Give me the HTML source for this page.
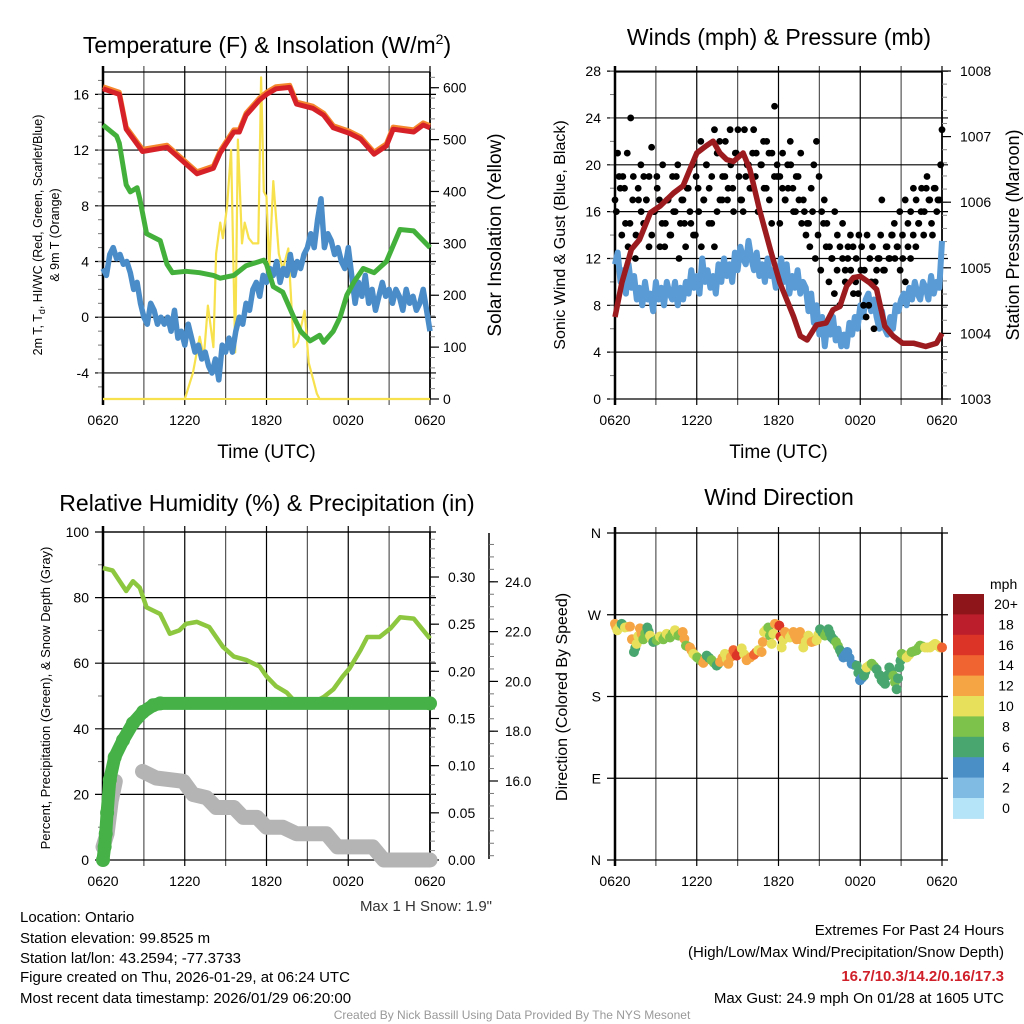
<!DOCTYPE html>
<html><head><meta charset="utf-8"><title>Mesonet station summary charts</title>
<style>
html,body{margin:0;padding:0;background:#fff;}
svg{display:block;font-family:"Liberation Sans",Arial,sans-serif;}
</style></head>
<body>
<svg id="fig" width="1024" height="1024" viewBox="0 0 1024 1024" xmlns="http://www.w3.org/2000/svg">
<rect x="0" y="0" width="1024" height="1024" fill="#fff"/>
<g id="p1"></g>
<g id="p2"></g>
<g id="p3"></g>
<g id="p4"></g>
<g font-size="15" fill="#000">
<text x="20" y="922">Location: Ontario</text>
<text x="20" y="943">Station elevation: 99.8525 m</text>
<text x="20" y="963">Station lat/lon: 43.2594; -77.3733</text>
<text x="20" y="982">Figure created on Thu, 2026-01-29, at 06:24 UTC</text>
<text x="20" y="1003">Most recent data timestamp: 2026/01/29 06:20:00</text>
<text x="492" y="911" text-anchor="end" fill="#333">Max 1 H Snow: 1.9"</text>
<text x="1004" y="935" text-anchor="end">Extremes For Past 24 Hours</text>
<text x="1004" y="957" text-anchor="end">(High/Low/Max Wind/Precipitation/Snow Depth)</text>
<text x="1004" y="981" text-anchor="end" fill="#d0202a" font-weight="bold">16.7/10.3/14.2/0.16/17.3</text>
<text x="1004" y="1003" text-anchor="end">Max Gust: 24.9 mph On 01/28 at 1605 UTC</text>
<text x="512" y="1019" text-anchor="middle" font-size="12" fill="#999">Created By Nick Bassill Using Data Provided By The NYS Mesonet</text>
</g>
</svg>
<script>
// ---------------- DATA ----------------
const xTickLabels = ["0620","1220","1820","0020","0620"];
// Panel 1 (times in hours since 0620)
const tempT = [0,1.2,1.7,2.9,4.7,6.9,8.1,8.6,9.6,10,10.5,11.5,12,12.7,13.7,14.2,15.4,16.2,16.9,18.1,18.9,19.9,20.8,21.3,22.8,23.5,24];
const tempV = [16.4,16.0,13.5,11.9,12.2,10.3,10.7,11.8,13.3,13.3,14.5,15.6,16.0,16.4,16.5,15.3,15.0,14.5,13.6,13.2,12.8,11.7,12.3,13.5,13.3,13.8,13.6];
const dewT = [0,1,1.2,1.7,2,2.5,2.7,3.2,4.2,4.7,5.1,6.1,7.1,8.1,8.6,9.6,10.5,11.8,12,12.5,13.2,14,14.5,15.2,15.9,16.2,16.9,17.4,17.9,18.4,19.1,19.9,20.8,21.8,22.8,24];
const dewV = [13.8,13.0,12.5,9.5,9.0,9.3,8.5,6.0,5.5,3.8,3.2,3.3,3.2,3.0,2.8,3.0,3.7,4.1,3.8,2.2,1.8,0.0,-1.0,-1.7,-1.3,-1.8,-1.0,0.0,1.6,2.5,3.5,3.2,4.0,6.3,6.2,5.0];
const chillV = [3.5,3,4.5,5,4.2,4.5,3.8,4,3.2,2,2.5,1,0,-0.5,1,0.5,-0.5,0,-0.5,0,-1,0.5,-1.5,-1,-2,-0.5,-1.5,-2.5,-2,-3,-2.5,-3.5,-4,-3,-4.5,-2,-2.5,-1.5,-2.5,-1,0,-0.5,1,0.5,2,2.5,1.5,3,2.5,3.5,3,4,2.5,3.5,3,4.5,3,4,3.5,4.5,5,6,5,7,8.5,5,6,5.5,4.5,5,4,3.5,5,3,1,2.5,1.5,3,1,2,0.5,1.5,2.5,1.5,2,1,2,1.5,0.5,2,1,1.5,0.5,1,2,0.5,-1];
const solarT = [0,6,6.6,7.1,7.4,7.7,8.1,8.3,8.6,8.8,9.1,9.4,9.7,9.9,10.2,10.4,10.7,11,11.4,11.6,11.8,12,12.2,12.5,12.9,13.2,13.6,14,14.3,14.8,15.1,15.3,15.7,15.9,24];
const solarV = [0,0,50,120,80,180,100,280,340,310,370,480,90,500,300,340,310,300,300,620,400,390,250,420,280,250,290,100,110,170,70,50,10,0,0];
// Panel 2
const presT = [0,0.5,1.2,1.8,2.6,3.3,4.3,5,5.5,6,6.7,7.2,7.7,8.2,8.7,9.4,9.9,10.6,11.4,12.1,13.1,13.6,14.1,14.8,15.5,16,16.5,17,17.5,18,18.7,19.2,19.8,20.4,21.1,21.9,22.8,23.6,24];
const presV = [1004.25,1004.77,1005.28,1005.43,1005.84,1005.94,1006.14,1006.25,1006.5,1006.75,1006.86,1006.93,1006.75,1006.65,1006.62,1006.75,1006.5,1005.89,1005.28,1004.77,1004.26,1003.96,1003.9,1004.13,1004.16,1004.36,1004.41,1004.72,1004.85,1004.87,1004.77,1004.67,1004.11,1003.96,1003.85,1003.85,1003.8,1003.85,1004.0];
const sonicV = [11.5,12.5,10,11,9,11.5,9.5,10.5,8.5,9.5,8,10,8.5,9,7.5,10,8.5,9.5,8,10,9,8.5,10,8,9.5,8.5,10,9,11,9.5,10.5,9,12,10,11,9.5,10.5,9,11.5,10,12,10.5,11.5,10,12.5,11,13,12,11.5,13.5,12,11,12.5,10.5,11.5,10,12,10.5,11,9.5,10.5,12,10,11.5,9,10.5,9.5,11,9,10,9.5,7.5,9,6.5,8,5.5,7,4.5,6.5,5.5,7,5,6,4.5,5.5,4.5,6.5,5.5,7,6,8,7,8.5,9,7.5,8.5,7,6,7.5,6,5.5,7,6,8,7.5,8.5,9,8,9.5,8.5,10,9,8.5,10,9.5,8.5,10.5,9,10,9.5,13.5];
const gustV = [17,21,18,19,15,13,24,19,14,17,16,19,17,13,21.5,16,19,17,15,13,17,14,19,16,20,15,17,13,18,15,14,19,16,13,17,20,18,15,13,16,22,17,19,17,23,18,21,23,17,16,19,20,18,23,21,16,20,18,22,17,21,25,19,15,18,17,20,22,18,16,19,21,17,14,15,18,20,22,19,16,17,15,13,12,16,14,13,15,11,12,14,13,10,9,11,8,7,8,10,6,11,12,17,11,13,12,14,12,13,11,12,10,13,12,14,13,15,16,14,18,17,15,18,16,17,23];
const gustV2 = [16,19,14,18,21,15,17,12,18,20,15,17,19,14,16,18,13,20,15,17,14,16,19,12,17,15,18,16,20,14,18,22,17,20,15,19,23,21,17,19,22,18,20,16,21,19,17,23,20,18,21,19,16,20,22,18,21,15,19,20,19,21,17,18,20,16,19,17,15,16,15,13,16,12,14,11,15,13,10,12,9,11,8,12,10,13,11,9,12,14,13,11,14,12,13,10,12,14,11,13,12,14,15,13,16,14,17,15,16,18,17,15,18,16,19,17,14,18,17,20];
// Panel 3
const rhT = [0,0.7,1.7,2.2,2.7,3.2,4.2,4.9,5.6,6.1,6.9,7.8,8.8,9.6,10.5,11.5,12,12.7,13.5,14,15,16.2,16.9,17.6,18.1,18.9,19.4,20.3,21.1,21.8,22.8,24];
const rhV = [89,88.3,82,85,83,77,75,69,70,72,72.6,71,65,62,61,59,56,53,51,48.7,47,49.7,52,56,58.4,64,68,68,70.6,74,73.6,67.5];
const precipT = [0,0.12,0.2,0.3,0.5,0.86,1.47,2.2,2.94,3.68,4.2,24];
const precipV = [0,0.014,0.028,0.05,0.085,0.109,0.127,0.145,0.157,0.164,0.166,0.166];
const snowT1 = [0,0.3,0.6,0.9];
const snowV1 = [4,8,18,24];
const snowT2 = [2.9,3.9,5.9,6.6,7.6,8.3,9.6,10.3,11.3,12,13.2,14.2,16.4,17.2,19.8,20.6,24];
const snowV2 = [27,25,24,20,19,16,16,13,13,10,10,8,8,4,4,0,0];
// Panel 4
const dirT = [0,.17,.49,.73,1.1,1.39,1.59,1.83,2.08,2.37,2.57,2.81,3.06,3.3,3.55,3.79,4.04,4.4,4.65,4.97,5.21,5.5,5.75,6.04,6.48,6.73,7.09,7.46,7.71,8.07,8.32,8.69,8.93,9.3,9.66,10.2,10.52,10.76,10.94,11.25,11.5,11.74,12.06,12.23,12.48,12.84,13.09,13.33,13.58,13.82,14.19,14.43,14.8,15.05,15.41,15.66,15.9,16.22,16.51,16.76,17.05,17.37,17.74,17.98,18.28,18.47,18.84,19.2,19.57,19.82,20.13,20.43,20.67,20.87,21.04,21.41,21.77,22.14,22.39,22.75,23.12,23.49,23.85,24];
const dirV = [260,253,260,256,257,229,238,255,243,256,247,240,242,246,243,249,245,253,247,251,236,234,227,223,217,225,220,214,218,227,216,231,225,233,220,226,231,229,251,256,238,260,258,234,251,245,251,243,251,234,247,240,242,254,247,254,245,240,231,223,229,216,214,198,203,212,216,210,198,194,212,203,188,212,227,223,229,231,236,234,234,238,234,234];
const dirS = [12,10,7,10,12,7,10,13,9,7,10,7,8,10,9,10,8,10,9,13,8,13,10,9,12,7,9,7,12,10,12,15,16,10,12,15,10,12,10,8,10,13,16,10,12,10,12,12,13,10,10,12,10,7,8,6,7,8,6,5,4,4,6,5,7,10,8,6,6,6,7,8,6,6,8,10,8,9,8,10,10,10,11,15];
const speedLabels = ["0","2","4","6","8","10","12","14","16","18","20+"];
const speedColors = ["#b5e4f8","#80bbe4","#4a8fc6","#49a66f","#7cc24b","#e6e05b","#f6a544","#ef6431","#dd3428","#bd1e2c","#8e161b"];

// ---------------- HELPERS ----------------
const NS="http://www.w3.org/2000/svg";
function mk(parent, tag, attrs, txt){const e=document.createElementNS(NS,tag);for(const k in attrs)e.setAttribute(k,attrs[k]);if(txt!==undefined)e.textContent=txt;parent.appendChild(e);return e;}
function idxT(arr){return arr.map((_,i)=>i*24/(arr.length-1));}
function pathD(ts,vs,fx,fy){return ts.map((t,i)=>(i?"L":"M")+fx(t).toFixed(1)+","+fy(vs[i]).toFixed(1)).join(" ");}

function frame(g, x0, x1, y0, y1, yTicks, fy, yLabels, minorL, drawTimeTitle){
  const fx=t=>x0+t/24*(x1-x0);
  for(let h=0;h<=24;h+=3){
    const l=mk(g,"line",{x1:fx(h),x2:fx(h),y1:y0-6,y2:y1+6,stroke:(h%6===0?"#000":"#555"),"stroke-width":1.2});
    
    
  }
  yTicks.forEach((v,i)=>{
    const y=fy(v);
    const l=mk(g,"line",{x1:x0-8,x2:x1+6,y1:y,y2:y,stroke:"#000","stroke-width":1.2});
    
    
    const t=mk(g,"text",{x:x0-14,y:y+5,"text-anchor":"end","font-size":14},yLabels[i]);
    
    
  });
  minorL.forEach(v=>{mk(g,"line",{x1:x0-5,x2:x0,y1:fy(v),y2:fy(v),stroke:"#777","stroke-width":1});});
  mk(g,"line",{x1:x0,x2:x0,y1:y0-6,y2:y1+6,stroke:"#000","stroke-width":2.5});
  mk(g,"line",{x1:x0,x2:x1,y1:y0,y2:y0,stroke:"#000","stroke-width":1.2});
  mk(g,"line",{x1:x1,x2:x1,y1:y0,y2:y1,stroke:"#000","stroke-width":1.5});
  xTickLabels.forEach((lab,i)=>{
    const t=mk(g,"text",{x:fx(i*6),y:y1+26,"text-anchor":"middle","font-size":14},lab);
    
    
  });
  if(drawTimeTitle){
    const t=mk(g,"text",{x:(x0+x1)/2,y:y1+59,"text-anchor":"middle","font-size":19},"Time (UTC)");
    
    
  }
  return fx;
}
function rightAxis(g,x,y0,y1,ticks,fy,labels,minor,lx){
  mk(g,"line",{x1:x,x2:x,y1:y0,y2:y1,stroke:"#000","stroke-width":1.5});
  minor.forEach(v=>mk(g,"line",{x1:x,x2:x+5,y1:fy(v),y2:fy(v),stroke:"#888","stroke-width":1}));
  ticks.forEach((v,i)=>{
    mk(g,"line",{x1:x,x2:x+9,y1:fy(v),y2:fy(v),stroke:"#000","stroke-width":1.2});
    const t=mk(g,"text",{x:lx,y:fy(v)+5,"font-size":14},labels[i]);
    
    
  });
}
function rng(a,b,s){const r=[];for(let v=a;v<=b+1e-9;v+=s)r.push(+v.toFixed(4));return r;}

// ---------------- PANEL 1 ----------------
(function(){
  const g=document.getElementById("p1");
  const x0=103,x1=430,y0=72,y1=399;
  const fy=v=>399-(v+5.87)*13.93;
  const fs=v=>399-v*0.5188;
  const fx=frame(g,x0,x1,y0,y1,[-4,0,4,8,12,16],fy,["-4","0","4","8","12","16"],rng(-5,17,1),true);
  rightAxis(g,x1,y0,y1,[0,100,200,300,400,500,600],fs,["0","100","200","300","400","500","600"],rng(0,620,20),443);
  let p=mk(g,"path",{d:pathD(solarT,solarV,fx,fs),fill:"none",stroke:"#f7e14d","stroke-width":2.2,"stroke-linejoin":"round"});
  
  
  p=mk(g,"path",{d:pathD(idxT(chillV),chillV,fx,fy),fill:"none",stroke:"#4a8cc8","stroke-width":5.5,"stroke-linejoin":"round"});
  
  
  p=mk(g,"path",{d:pathD(dewT,dewV,fx,fy),fill:"none",stroke:"#44b03c","stroke-width":5,"stroke-linejoin":"round"});
  
  
  p=mk(g,"path",{d:pathD(tempT,tempV.map(v=>v+0.15),fx,fy),fill:"none",stroke:"#f5872e","stroke-width":5,"stroke-linejoin":"round"});
  
  
  p=mk(g,"path",{d:pathD(tempT,tempV,fx,fy),fill:"none",stroke:"#d62128","stroke-width":5,"stroke-linejoin":"round"});
  
  
  mk(g,"line",{x1:x0,x2:x1,y1:y1,y2:y1,stroke:"#f7e14d","stroke-width":2});
  let t=mk(g,"text",{x:267,y:53,"text-anchor":"middle","font-size":23});
  t.innerHTML='Temperature (F) &amp; Insolation (W/m<tspan dy="-9" font-size="14">2</tspan><tspan dy="9">)</tspan>';
  
  
  t=mk(g,"text",{transform:"translate(42,235) rotate(-90)","text-anchor":"middle","font-size":12.5});
  t.innerHTML='2m T, T<tspan dy="3" font-size="9">d</tspan><tspan dy="-3">, HI/WC (Red, Green, Scarlet/Blue)</tspan>';
  
  
  t=mk(g,"text",{transform:"translate(59,235) rotate(-90)","text-anchor":"middle","font-size":12.5},"& 9m T (Orange)");
  
  
  t=mk(g,"text",{transform:"translate(501,235) rotate(-90)","text-anchor":"middle","font-size":19},"Solar Insolation (Yellow)");
  
  
})();

// ---------------- PANEL 2 ----------------
(function(){
  const g=document.getElementById("p2");
  const x0=615,x1=942,y0=72,y1=399;
  const fy=v=>399-v*11.71;
  const fp=v=>399-(v-1003)*65.6;
  const fx=frame(g,x0,x1,y0,y1,[0,4,8,12,16,20,24,28],fy,["0","4","8","12","16","20","24","28"],rng(0,28,2),true);
  rightAxis(g,x1,y0,y1,[1003,1004,1005,1006,1007,1008],fp,["1003","1004","1005","1006","1007","1008"],rng(1003,1008,0.2),960);
  let p=mk(g,"path",{d:pathD(idxT(sonicV),sonicV,fx,fy),fill:"none",stroke:"#5a9bd5","stroke-width":6,"stroke-linejoin":"round"});
  
  
  const gt=idxT(gustV);
  gustV.forEach((v,i)=>{
    const c=mk(g,"circle",{cx:fx(gt[i]),cy:fy(v),r:3.4,fill:"#000"});
    
    
  });
  gustV2.forEach((v,i)=>{
    const c=mk(g,"circle",{cx:fx((i+0.5)*24/gustV2.length),cy:fy(v),r:3.4,fill:"#000"});
    
    
  });
  p=mk(g,"path",{d:pathD(presT,presV,fx,fp),fill:"none",stroke:"#9b1b1e","stroke-width":5.5,"stroke-linejoin":"round"});
  
  
  let t=mk(g,"text",{x:779,y:45,"text-anchor":"middle","font-size":23},"Winds (mph) & Pressure (mb)");
  
  
  t=mk(g,"text",{transform:"translate(565,235) rotate(-90)","text-anchor":"middle","font-size":16},"Sonic Wind & Gust (Blue, Black)");
  
  
  t=mk(g,"text",{transform:"translate(1019,235) rotate(-90)","text-anchor":"middle","font-size":18},"Station Pressure (Maroon)");
  
  
})();

// ---------------- PANEL 3 ----------------
(function(){
  const g=document.getElementById("p3");
  const x0=103,x1=430,y0=532,y1=860;
  const fy=v=>860-v*3.28;
  const fp=v=>860-v*943.3;
  const fsn=v=>781-(v-16)*24.9;
  const fx=frame(g,x0,x1,y0,y1,[0,20,40,60,80,100],fy,["0","20","40","60","80","100"],[10,30,50,70,90],false);
  rightAxis(g,x1,y0,y1,[0,0.05,0.1,0.15,0.2,0.25,0.3],fp,["0.00","0.05","0.10","0.15","0.20","0.25","0.30"],rng(0,0.34,0.01),448);
  mk(g,"line",{x1:489,x2:489,y1:533,y2:859,stroke:"#000","stroke-width":1.5});
  rng(13,25.8,0.5).forEach(v=>{if(fsn(v)>=533&&fsn(v)<=859)mk(g,"line",{x1:489,x2:494,y1:fsn(v),y2:fsn(v),stroke:"#777","stroke-width":1});});
  [16,18,20,22,24].forEach(v=>{
    mk(g,"line",{x1:489,x2:498,y1:fsn(v),y2:fsn(v),stroke:"#000","stroke-width":1.2});
    const t=mk(g,"text",{x:505,y:fsn(v)+5,"font-size":13.5},v.toFixed(1));
    
    
  });
  let p=mk(g,"path",{d:pathD(rhT,rhV,fx,fy),fill:"none",stroke:"#8dc63f","stroke-width":4.5,"stroke-linejoin":"round"});
  
  
  [[snowT1,snowV1],[snowT2,snowV2]].forEach(([ts,vs])=>{
    const q=mk(g,"path",{d:pathD(ts,vs,fx,fy),fill:"none",stroke:"#b4b4b4","stroke-width":15,"stroke-linejoin":"round","stroke-linecap":"round"});
    
    
  });
  p=mk(g,"path",{d:pathD(precipT,precipV,fx,fp),fill:"none",stroke:"#46b147","stroke-width":13,"stroke-linejoin":"round","stroke-linecap":"round"});
  
  
  precipT.forEach((tt,i)=>{
    const c=mk(g,"circle",{cx:fx(tt),cy:fp(precipV[i]),r:7,fill:"#46b147"});
    
    
  });
  let t=mk(g,"text",{x:267,y:511,"text-anchor":"middle","font-size":23},"Relative Humidity (%) & Precipitation (in)");
  
  
  t=mk(g,"text",{transform:"translate(50,698) rotate(-90)","text-anchor":"middle","font-size":13},"Percent, Precipitation (Green), & Snow Depth (Gray)");
  
  
})();

// ---------------- PANEL 4 ----------------
(function(){
  const g=document.getElementById("p4");
  const x0=615,x1=942,y0=533,y1=860;
  const fy=v=>860-v*0.9083;
  const fx=frame(g,x0,x1,y0,y1,[0,90,180,270,360],fy,["N","E","S","W","N"],[],false);
  dirT.forEach((tt,i)=>{
    const ci=Math.min(10,Math.floor(dirS[i]/2));
    const c=mk(g,"circle",{cx:fx(tt),cy:fy(dirV[i]),r:5,fill:speedColors[ci]});
    
    
    if(i<dirT.length-1){
      const c2=mk(g,"circle",{cx:(fx(tt)+fx(dirT[i+1]))/2,cy:(fy(dirV[i])+fy(dirV[i+1]))/2,r:5,fill:speedColors[ci]});
      
      
    }
  });
  const cbTop=594,bh=20.4;
  const ml=mk(g,"text",{x:990,y:589,"font-size":14},"mph");
  
  
  for(let k=0;k<11;k++){
    const idx=10-k;
    const r=mk(g,"rect",{x:953,y:cbTop+k*bh,width:31,height:bh+0.5,fill:speedColors[idx]});
    
    
    const t=mk(g,"text",{x:1006,y:cbTop+k*bh+15,"text-anchor":"middle","font-size":14},speedLabels[idx]);
    
    
  }
  let t=mk(g,"text",{x:779,y:505,"text-anchor":"middle","font-size":23},"Wind Direction");
  
  
  t=mk(g,"text",{transform:"translate(567,697) rotate(-90)","text-anchor":"middle","font-size":16},"Direction (Colored By Speed)");
  
  
})();
</script>
</body></html>
